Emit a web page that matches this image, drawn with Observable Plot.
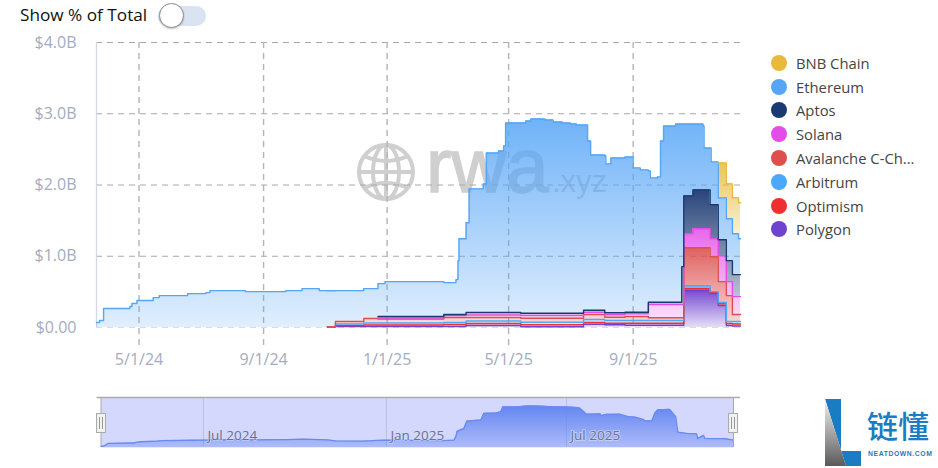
<!DOCTYPE html>
<html>
<head>
<meta charset="utf-8">
<script src="https://cdn.jsdelivr.net/npm/d3@7"></script>
<script src="https://cdn.jsdelivr.net/npm/@observablehq/plot@0.6"></script>
<style>
html,body{margin:0;padding:0;background:#fff;width:938px;height:468px;overflow:hidden;font-family:"Open Sans",sans-serif}
#stage{position:relative;width:938px;height:468px}
#stage>*{position:absolute}
#toggleText{left:20px;top:4px;font-size:17.2px;line-height:22px;color:#111}
#track{left:158px;top:6px;width:48px;height:20px;border-radius:10px;background:#d9e3f1}
#knob{left:159px;top:3px;width:23px;height:23px;border-radius:50%;background:#fff;border:1px solid #8c8c8c;box-shadow:0 1px 2px rgba(0,0,0,.25)}
#legend{left:771px;top:51px;font-size:14.8px;color:#444}
.li{display:flex;align-items:center;height:23.8px;white-space:nowrap}
.sw{width:16px;height:16px;border-radius:50%;margin-right:9px}
.handle{width:8px;height:18px;top:413px;background:#f1f1f1;border:1px solid #aaa;display:flex;justify-content:center;align-items:center;gap:2px}
.handle i{display:block;width:1px;height:12px;background:#999}
</style>
</head>
<body>
<div id="stage">
  <svg id="mark" width="938" height="468" style="left:0;top:0">
    <g fill="none" stroke="#cfcfcf" stroke-width="4">
      <circle cx="386" cy="172" r="27"/>
      <ellipse cx="386" cy="172" rx="13" ry="27"/>
      <line x1="386" y1="145" x2="386" y2="199"/>
      <line x1="359" y1="172" x2="413" y2="172"/>
      <path d="M364 156Q386 166 408 156"/>
      <path d="M364 188Q386 178 408 188"/>
    </g>
    <text x="426" y="192" fill="#cfcfcf" stroke="#cfcfcf" stroke-width="1.5" font-family="Liberation Sans" font-size="76">rwa</text>
    <text x="552" y="192" fill="#cfcfcf" font-family="Liberation Sans" font-size="31">.xyz</text>
    <defs>
      <linearGradient id="logoGray" x1="0" y1="0" x2="0" y2="1">
        <stop offset="0" stop-color="#f2f2f2"/><stop offset="1" stop-color="#5a5a5a"/>
      </linearGradient>
    </defs>
    <polygon points="825,399 841,399 841,451 861,451 861,466 846,466" fill="#1a7cc2"/>
    <polygon points="825,399 846,466 825,466" fill="url(#logoGray)"/>
    <text x="867" y="438" fill="#1a7cc2" font-family="Noto Sans CJK SC" font-weight="500" font-size="31">链懂</text>
    <text x="868" y="456" fill="#1a7cc2" font-family="Liberation Sans" font-weight="700" font-size="6.8" letter-spacing="0.6">NEATDOWN.COM</text>
  </svg>
  <div id="toggleText">Show % of Total</div>
  <div id="track"></div>
  <div id="knob"></div>
  <div id="main" style="left:0;top:0"></div>
  <div id="over" style="left:0;top:385px"></div>
  <div class="handle" style="left:96px"><i></i><i></i></div>
  <div class="handle" style="left:728px"><i></i><i></i></div>
  <div id="legend"></div>
</div>
<script>
const dates = ["2024-03-20","2024-03-23","2024-03-27","2024-04-22","2024-04-24","2024-04-29","2024-05-15","2024-05-21","2024-06-18","2024-07-06","2024-07-10","2024-08-14","2024-09-23","2024-10-09","2024-10-26",
"2024-11-03","2024-11-11","2024-12-09","2024-12-23","2024-12-30",
"2025-02-26","2025-03-10","2025-03-12","2025-03-13",
"2025-03-20","2025-03-23","2025-04-06","2025-04-09","2025-04-21","2025-04-26","2025-04-28",
"2025-05-13","2025-05-18","2025-05-23","2025-05-28","2025-06-06","2025-06-14","2025-06-23","2025-07-01","2025-07-07",
"2025-07-14","2025-07-18","2025-07-21",
"2025-08-04","2025-08-05","2025-08-10",
"2025-08-24","2025-09-01","2025-09-08",
"2025-09-16","2025-09-18","2025-09-25","2025-09-28","2025-10-01","2025-10-13",
"2025-10-19","2025-10-21","2025-10-30","2025-11-09","2025-11-10",
"2025-11-16","2025-11-17","2025-11-24","2025-12-02","2025-12-08","2025-12-14","2025-12-16"];

// values in $ millions
const polygon = [0,0,0,0,0,0,0,0,0,0,0,0,0,0,0, 4,14,14,14,14, 14,14,14,14, 28,28,28,28,28,28,28, 10,10,10,10,10,10,10,10,10, 46,46,46, 38,38,38, 32,32,32, 32,32,32,32,32,32, 32,518,518,518,518, 476,476,308,28,21,21,21];
const optimism = [0,0,0,0,0,0,0,0,0,0,0,0,0,0,0, 3,14,21,21,21, 28,28,28,28, 28,28,28,28,28,28,28, 28,28,28,28,28,28,28,28,28, 24,24,24, 22,22,22, 28,28,28, 28,28,28,28,28,28, 28,28,28,28,28, 14,14,28,28,28,28,28];
const arbitrum = [0,0,0,0,0,0,0,0,0,0,0,0,0,0,0, 3,21,28,28,28, 28,28,28,28, 35,35,35,35,35,35,35, 36,36,36,36,36,36,36,36,36, 42,42,42, 38,38,38, 38,38,38, 38,38,38,38,38,38, 38,42,42,42,42, 14,14,14,28,35,35,35];
const avalanche = [0,0,0,0,0,0,0,0,0,0,0,0,0,0,0, 1,35,63,56,56, 70,70,70,70, 49,49,49,49,49,49,49, 56,56,56,56,56,56,56,56,56, 70,70,70, 46,46,46, 56,56,56, 38,38,38,38,38,38, 38,532,532,532,532, 490,490,294,364,98,98,98];
const solana = [0,0,0,0,0,0,0,0,0,0,0,0,0,0,0, 0,0,0,14,14, 28,28,28,28, 35,35,35,35,35,35,35, 38,38,38,38,38,38,38,38,38, 32,32,32, 34,34,34, 38,38,38, 186,186,186,186,186,186, 186,196,266,266,266, 252,252,364,196,252,252,252];
const aptos = [0,0,0,0,0,0,0,0,0,0,0,0,0,0,0, 0,0,0,21,21, 14,14,14,14, 35,35,35,35,35,35,35, 32,32,32,32,32,32,32,32,32, 28,28,28, 28,28,28, 22,22,22, 32,32,32,32,32,32, 532,532,546,546,546, 476,476,224,294,308,308,308];
const ethereum = [70,98,266,294,336,378,420,448,476,490,518,504,518,546,518, 504,434,420,462,490, 448,490,756,1064, 1260,1736,1806,2240,2268,2338,2660, 2670,2698,2726,2726,2712,2684,2670,2656,2642, 2600,2376,2180, 2202,2090,2174, 2180,2026,1998, 1844,1746,1760,2264,2474,2502, 2002,1008,924,896,588, 798,602,588,588,574,504,504];
const bnb = [0,0,0,0,0,0,0,0,0,0,0,0,0,0,0, 0,0,0,0,0, 0,0,0,0, 0,0,0,0,0,0,0, 0,0,0,0,0,0,0,0,0, 0,0,0, 0,0,0, 0,0,0, 0,0,0,0,0,0, 0,0,0,0,0, 0,0,490,490,504,504,504];

const seriesNames = ["Polygon","Optimism","Arbitrum","Avalanche C-Ch...","Solana","Aptos","Ethereum","BNB Chain"];
const seriesValues = [polygon,optimism,arbitrum,avalanche,solana,aptos,ethereum,bnb];
const seriesColors = ["#6f42cf","#ee3030","#4ca8fa","#dc4f4d","#e44ce8","#1c3a72","#56a5f7","#e8b93a"];
const fillTops = [0.95,0.9,0.85,0.9,0.85,0.95,0.85,0.85];

const yTicks = [0,1000,2000,3000,4000];
const yLabels = ["$0.00","$1.0B","$2.0B","$3.0B","$4.0B"];
const xTicks = ["2024-05-01","2024-09-01","2025-01-01","2025-05-01","2025-09-01"].map(d => new Date(d));
const xLabels = ["5/1/24","9/1/24","1/1/25","5/1/25","9/1/25"];
const overTicks = ["2024-07-01","2025-01-01","2025-07-01"].map(d => new Date(d));
const overLabels = ["Jul 2024","Jan 2025","Jul 2025"];

const parsed = dates.map(d => new Date(d));
const domain = [parsed[0], parsed[parsed.length-1]];
const rows = seriesNames.flatMap((name,s) =>
  seriesValues[s].map((v,i) => ({date:parsed[i], value:v, series:name, color:seriesColors[s], fill:`url(#g${s})`})).filter(r => r.value > 0));
const ethRows = parsed.map((d,i) => ({date:d, value:ethereum[i]}));

function gradients(list){
  return () => {
    const defs = d3.create("svg:defs");
    list.forEach(g => {
      const lg = defs.append("linearGradient").attr("id",g.id).attr("x1",0).attr("y1",0).attr("x2",0).attr("y2",1);
      lg.append("stop").attr("offset",0).attr("stop-color",g.color).attr("stop-opacity",g.top);
      lg.append("stop").attr("offset",1).attr("stop-color",g.color).attr("stop-opacity",g.bottom);
    });
    return defs.node();
  };
}

const main = Plot.plot({
  width:938, height:375, marginLeft:96, marginRight:198, marginTop:42, marginBottom:48,
  style:{background:"transparent",fontFamily:"Open Sans",overflow:"visible"},
  x:{type:"utc",domain}, y:{domain:[0,4000]}, color:{type:"identity"},
  marks:[
    gradients(seriesColors.map((c,i)=>({id:`g${i}`,color:c,top:fillTops[i],bottom:0.18}))),
    Plot.ruleY(yTicks.slice(1),{stroke:"#a9a9a9",strokeDasharray:"6,5",strokeWidth:1.2}),
    Plot.ruleY([0],{stroke:"#dcdcdc",strokeDasharray:"6,5",strokeWidth:1.2}),
    Plot.ruleX(xTicks,{y1:4000,y2:-280,stroke:"#b4b4b4",strokeDasharray:"6,5",strokeWidth:1.4}),
    Plot.ruleX([domain[0]],{y1:4000,y2:0,stroke:"#d3d8e6",strokeWidth:1.3}),
    Plot.areaY(rows,Plot.stackY({x:"date",y:"value",z:"series",fill:"fill",curve:"step-after"})),
    Plot.lineY(rows,Plot.stackY2({x:"date",y:"value",z:"series",stroke:"color",strokeWidth:1.4,curve:"step-after"})),
    Plot.axisY({ticks:yTicks,tickSize:0,tickPadding:20,label:null,fontSize:16,fill:"#a4acbf",tickFormat:d=>yLabels[yTicks.indexOf(d)]}),
    Plot.axisX({ticks:xTicks,tickSize:0,tickPadding:26,label:null,fontSize:16,fill:"#a4acbf",tickFormat:d=>xLabels[xTicks.findIndex(t=>+t===+d)]})
  ]
});
document.getElementById("main").append(main);

const over = Plot.plot({
  width:938, height:83, marginLeft:100.5, marginRight:205, marginTop:12, marginBottom:21,
  style:{background:"transparent",fontFamily:"Open Sans",overflow:"visible"},
  x:{type:"utc",domain,axis:null}, y:{domain:[0,3280],axis:null},
  marks:[
    gradients([{id:"ov",color:"#6486f2",top:1,bottom:0.35}]),
    Plot.frame({fill:"#d4d8fc",stroke:null}),
    Plot.ruleX(overTicks,{stroke:"#bcc0de",strokeWidth:1}),
    Plot.areaY(ethRows,{x:"date",y:"value",fill:"url(#ov)"}),
    Plot.lineY(ethRows,{x:"date",y:"value",stroke:"#6a8aee",strokeWidth:1.3}),
    Plot.ruleX([domain[0],domain[1]],{stroke:"#a8a8a8",strokeWidth:1}),
    Plot.ruleY([3280],{x1:new Date("2024-03-16"),x2:new Date("2025-12-23"),stroke:"#ababab",strokeWidth:1.4}),
    Plot.text(overTicks,{x:d=>d,text:(d,i)=>overLabels[i],frameAnchor:"bottom",dy:-8,dx:4,textAnchor:"start",fontSize:13.5,fill:"#6a7390",stroke:"#d4d8fc",strokeWidth:2,strokeOpacity:.7})
  ]
});
document.getElementById("over").append(over);

const legend = document.getElementById("legend");
[...seriesNames].map((n,i)=>({n,c:seriesColors[i]})).reverse().forEach(({n,c}) => {
  const row = document.createElement("div"); row.className = "li";
  const sw = document.createElement("div"); sw.className = "sw"; sw.style.background = c;
  const t = document.createElement("span"); t.textContent = n;
  row.append(sw,t); legend.append(row);
});
</script>
</body>
</html>
